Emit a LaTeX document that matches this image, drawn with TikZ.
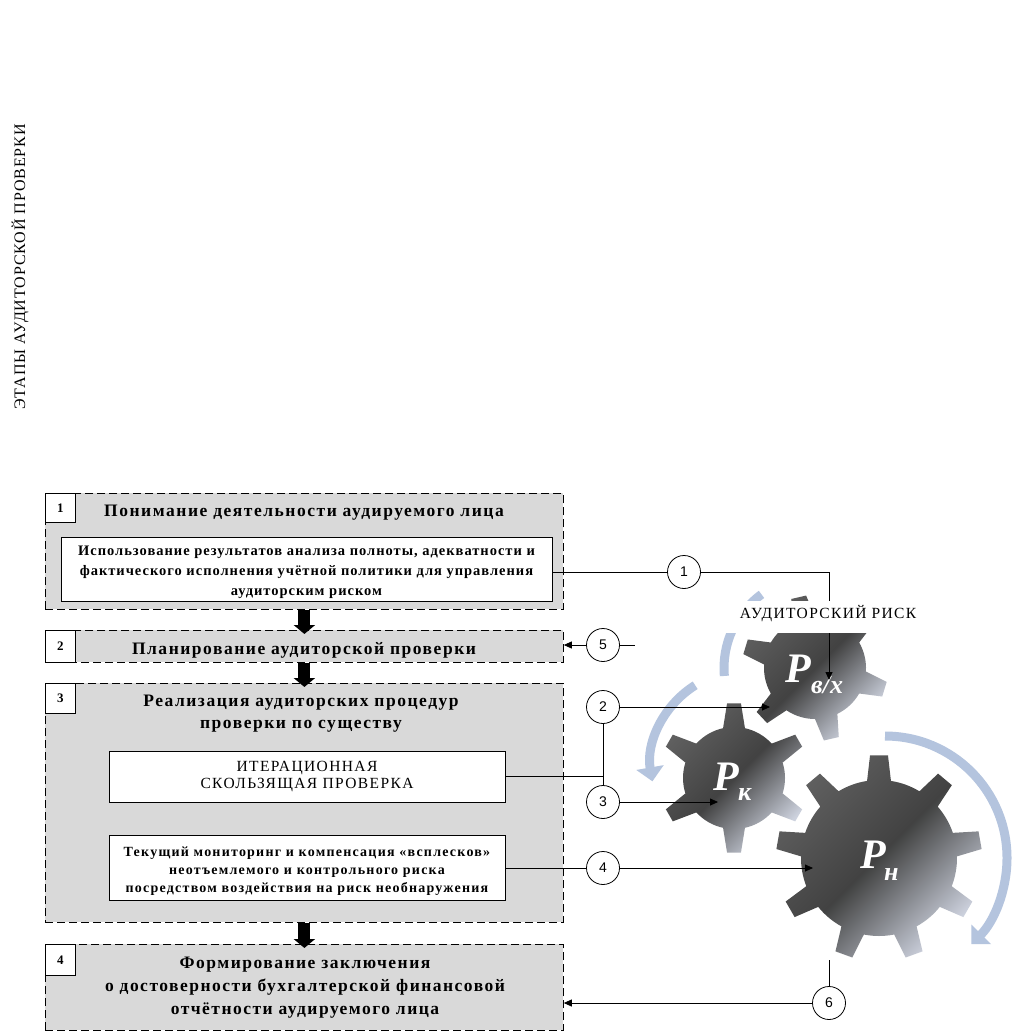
\documentclass[tikz,border=0pt]{standalone}
\usepackage{fontspec}
\setmainfont{Liberation Serif}
\newfontfamily\numfont{Liberation Sans}
\usetikzlibrary{arrows.meta}

\definecolor{boxgray}{RGB}{217,217,217}
\definecolor{arcblue}{RGB}{180,196,222}
\definecolor{gearA}{RGB}{95,95,95}
\definecolor{gearB}{RGB}{66,66,66}
\definecolor{gearC}{RGB}{205,210,222}

\newcommand\ttlfont{\fontsize{17.5}{22}\selectfont\bfseries\addfontfeatures{LetterSpace=8.7}}
\newcommand\vtfont{\fontsize{16}{16}\selectfont\addfontfeatures{LetterSpace=5.5}}

\newcommand{\drawgear}[8]{%
  \begin{scope}[shift={(#1,#2)}]
    \shade[gearfill] ({#8-#6}:#4pt)
      \foreach \k in {1,...,#3} {
        -- ({#8+(\k-1)*360/#3-#7}:#5pt)
        -- ({#8+(\k-1)*360/#3+#7}:#5pt)
        -- ({#8+(\k-1)*360/#3+#6}:#4pt)
        arc[start angle={#8+(\k-1)*360/#3+#6}, end angle={#8+\k*360/#3-#6}, radius=#4pt]
      } -- cycle;
  \end{scope}}

\tikzset{
  stage/.style={draw, fill=boxgray, dash pattern=on 8pt off 4pt, line width=0.8pt, inner sep=0pt, anchor=north west, minimum width=518pt},
  numbox/.style={draw, fill=white, line width=0.8pt, inner sep=0pt, anchor=north west, minimum width=30pt, font=\fontsize{13}{13}\selectfont\bfseries},
  innerbox/.style={draw, fill=white, line width=0.8pt, inner sep=0pt},
  boxtext/.style={inner sep=0pt, align=center},
  ttl/.style={inner sep=0pt, align=center, font=\ttlfont},
  conn/.style={line width=0.8pt},
  carrow/.style={line width=0.8pt, -{Triangle[width=7pt,length=8pt]}},
  bigarrow/.style={line width=12pt, -{Triangle[width=21pt,length=9pt]}},
  numcirc/.style={circle, draw, fill=white, line width=0.8pt, minimum size=33pt, inner sep=0pt, font=\numfont\fontsize{14}{14}\selectfont},
  arcband/.style={draw=arcblue, line width=9pt},
  gearfill/.style={top color=gearA, bottom color=gearC, middle color=gearB, shading angle=45},
  gtext/.style={text=white, font=\fontsize{42}{42}\selectfont\bfseries\itshape, inner sep=0pt, anchor=base west},
  gsub/.style={text=white, font=\fontsize{26}{26}\selectfont\bfseries\itshape, inner sep=0pt, anchor=base west},
}

\begin{document}
\begin{tikzpicture}[x=1pt,y=1pt]
\fill[white] (0,0) rectangle (1014,-1032);
\useasboundingbox (0,0) rectangle (1014,-1032);

% vertical caption
\node[rotate=90, font=\vtfont, inner sep=0pt] (vt) at (20,-267) {ЭТАПЫ АУДИТОРСКОЙ ПРОВЕРКИ};

% blue rotation arcs
\draw[arcband] ([shift={(185:91pt)}]815,-668) arc[start angle=185, end angle=126, radius=91pt];
\draw[arcband, -{Triangle[width=27pt,length=14pt]}] ([shift={(122:94pt)}]745,-765) arc[start angle=122, end angle=190, radius=94pt];
\draw[arcband, -{Triangle[width=27pt,length=14pt]}] ([shift={(90:122pt)}]885,-858) arc[start angle=90, end angle=-45, radius=122pt];

% gears
\drawgear{815}{-668}{6}{51}{73}{13}{6}{43}
\drawgear{734}{-778}{6}{51}{75}{12.4}{5.3}{90}
\drawgear{879}{-858}{9}{78}{103}{8.8}{5}{90}

\node[gtext] (pbx) at (785,-682) {Р};
\node[gsub] (pbxs) at (811,-693) {в/х};
\node[gtext] (pk) at (713,-790) {Р};
\node[gsub] (pks) at (738,-800) {к};
\node[gtext] (pn) at (860,-868) {Р};
\node[gsub] (pns) at (884,-880) {н};

\coordinate (gbx) at (829,-680);
\coordinate (gbx2) at (770,-707);
\coordinate (gk) at (718,-802);
\coordinate (gn) at (813,-868);
\coordinate (c5free) at (635,-645);
\coordinate (c6free) at (829,-960);

% stage boxes
\node[stage, minimum height=116pt] (st1) at (45,-493) {};
\node[stage, minimum height=32pt] (st2) at (45,-630) {};
\node[stage, minimum height=239pt] (st3) at (45,-683) {};
\node[stage, minimum height=86pt] (st4) at (45,-944) {};

\node[numbox, minimum height=29pt] (n1) at (45,-493) {1};
\node[numbox, minimum height=32pt] (n2) at (45,-630) {2};
\node[numbox, minimum height=30pt] (n3) at (45,-683) {3};
\node[numbox, minimum height=31pt] (n4) at (45,-944) {4};

\node[ttl] (t1) at (304,-513) {Понимание деятельности аудируемого лица};
\node[ttl] (t2) at (304,-650) {Планирование аудиторской проверки};
\node[ttl] (t3) at (301,-714) {Реализация аудиторских процедур\\проверки по существу};
\node[ttl, font=\fontsize{17.5}{23}\selectfont\bfseries\addfontfeatures{LetterSpace=8.5}] (t4) at (305,-988) {Формирование заключения\\о достоверности бухгалтерской финансовой\\отчётности аудируемого лица};

\node[innerbox, minimum width=491pt, minimum height=64pt] (in1) at (306.5,-569) {};
\node[boxtext, font=\fontsize{14.5}{20}\selectfont\bfseries\addfontfeatures{LetterSpace=6.8}] (in1t) at (306.5,-572) {Использование результатов анализа полноты, адекватности и\\фактического исполнения учётной политики для управления\\аудиторским риском};
\node[innerbox, minimum width=396pt, minimum height=51pt] (inA) at (307,-776.5) {};
\node[boxtext, font=\fontsize{15.5}{17}\selectfont\addfontfeatures{LetterSpace=9}] (inAt) at (307,-776.5) {ИТЕРАЦИОННАЯ\\СКОЛЬЗЯЩАЯ ПРОВЕРКА};
\node[innerbox, minimum width=396pt, minimum height=65pt] (inB) at (307,-867.5) {};
\node[boxtext, font=\fontsize{14}{18}\selectfont\bfseries\addfontfeatures{LetterSpace=8.8}] (inBt) at (307,-871) {Текущий мониторинг и компенсация «всплесков»\\неотъемлемого и контрольного риска\\посредством воздействия на риск необнаружения};

% big stage arrows
\draw[bigarrow] (st1.south) -- ([yshift=-4pt]st2.north);
\draw[bigarrow] (st2.south) -- ([yshift=-4pt]st3.north);
\draw[bigarrow] (st3.south) -- ([yshift=-4pt]st4.north);

% numbered circles
\node[numcirc] (c1) at (684,-572) {1};
\node[numcirc] (c5) at (603,-645) {5};
\node[numcirc] (c2) at (603,-707) {2};
\node[numcirc] (c3) at (603,-802) {3};
\node[numcirc] (c4) at (603,-868) {4};
\node[numcirc] (c6) at (829,-1003) {6};

% connectors
\draw[conn] (in1.east |- c1) -- (c1);
\draw[carrow] (c1) -| (gbx);
\draw[carrow] (c5) -- (st2.east |- c5);
\draw[conn] (c5) -- (c5free);
\draw[carrow] (c2) -- (gbx2);
\draw[conn] (c2) -- (c3);
\draw[conn] (inA.east) -- (inA.east -| c2);
\draw[carrow] (c3) -- (gk);
\draw[conn] (inB.east |- c4) -- (c4);
\draw[carrow] (c4) -- (gn);
\draw[conn] (c6free) -- (c6);
\draw[carrow] (c6) -- (st4.east |- c6);

% label over gears
\fill[white] (722,-601) rectangle (925,-633);
\node[font=\fontsize{15.5}{15.5}\selectfont\addfontfeatures{LetterSpace=8.6}, inner sep=0pt] (risk) at (828,-614) {АУДИТОРСКИЙ РИСК};
\end{tikzpicture}
\end{document}
